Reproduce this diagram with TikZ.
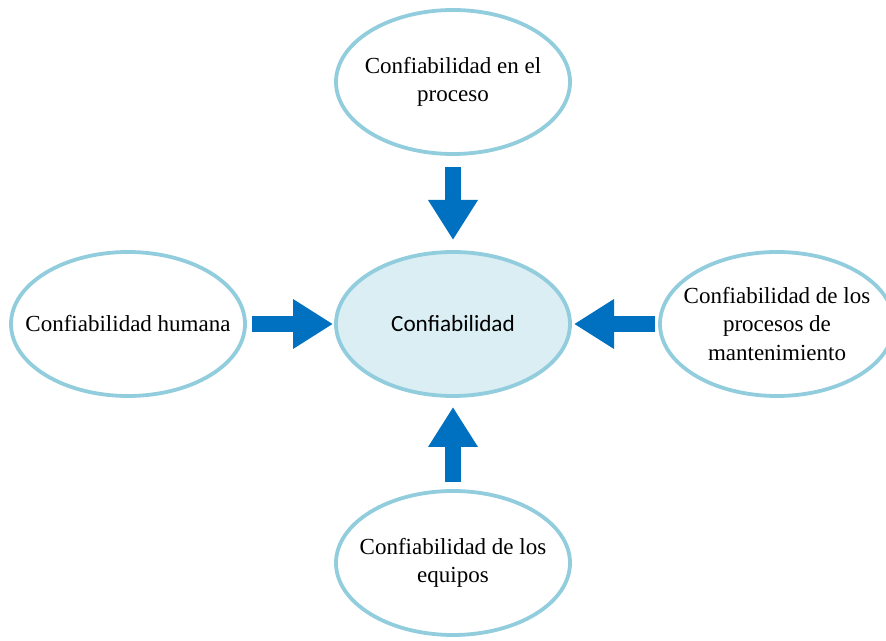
\documentclass[tikz,border=0pt]{standalone}
\usepackage{fontspec}
\setmainfont{Liberation Serif}
\newfontfamily\carlitofont{Carlito}
\usetikzlibrary{shapes.geometric,arrows.meta}
\definecolor{ringblue}{RGB}{146,205,221}
\definecolor{corefill}{RGB}{218,238,243}
\definecolor{arrowblue}{RGB}{0,112,192}
\tikzset{
  oval/.style={ellipse, draw=ringblue, line width=3.8pt, minimum width=234pt, minimum height=144pt,
    inner xsep=-25pt, inner ysep=0pt, outer sep=0pt, align=center,
    font=\fontsize{23}{28.5}\selectfont},
  core/.style={oval, fill=corefill, font=\carlitofont\fontsize{23.2}{26}\selectfont},
  blockarrow/.style={draw=arrowblue, line width=16pt,
    -{Triangle[width=47pt,length=40pt]}, arrowblue}
}
\begin{document}
\begin{tikzpicture}[x=1pt,y=1pt]
\useasboundingbox (0,0) rectangle (886,640);
\clip (0,0) rectangle (886,640);
\node[core] (c) at (453,316) {Confiabilidad};
\node[oval] (t) at (453,558) {Confiabilidad en el\\proceso};
\node[oval] (l) at (128,316) {Confiabilidad humana};
\node[oval] (r) at (777,316) {Confiabilidad de los\\procesos de\\mantenimiento};
\node[oval] (b) at (453,77) {Confiabilidad de los\\equipos};
\draw[blockarrow, shorten <=13pt, shorten >=12pt] (t.south) -- (c.north);
\draw[blockarrow, shorten <=7pt, shorten >=3pt] (l.east) -- (c.west);
\draw[blockarrow, shorten <=5pt, shorten >=4pt] (r.west) -- (c.east);
\draw[blockarrow, shorten <=9pt, shorten >=11pt] (b.north) -- (c.south);
\end{tikzpicture}
\end{document}
